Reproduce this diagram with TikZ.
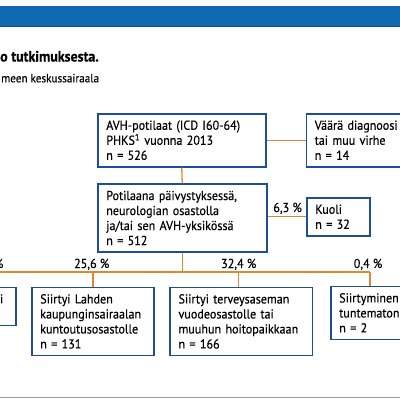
\documentclass[tikz,border=0pt]{standalone}
\usepackage{fontspec}
\setmainfont{PT Sans}[FakeStretch=0.93, FakeBold=0.4]
\definecolor{barblue}{HTML}{1169B0}
\definecolor{bardark}{HTML}{0B4A92}
\definecolor{boxblue}{HTML}{1D4F98}
\definecolor{linkor}{HTML}{DC8A2E}
\definecolor{rulegray}{HTML}{9A9A9A}
\newcommand{\bodyfont}{\fontsize{13}{15}\selectfont}
\begin{document}
\begin{tikzpicture}[x=1pt,y=-1pt,
  box/.style={draw=boxblue, line width=1.5pt, align=left, anchor=north west,
    inner xsep=8.5pt, inner ysep=5pt, font=\bodyfont,
    execute at begin node={\rule{0pt}{11pt}},
    execute at end node={\rule[-2pt]{0pt}{2pt}}},
  link/.style={draw=linkor, line width=1.3pt},
  pct/.style={font=\bodyfont, anchor=base, inner sep=0pt}]
\useasboundingbox (0,0) rectangle (400,400);
% header bar
\fill[barblue] (0,6) rectangle (400,26.7);
\draw[bardark, line width=1pt] (0,26.2) -- (400,26.2);
\node[anchor=base west, inner sep=0pt, font=\fontsize{15}{18}\selectfont\bfseries] (title) at (0,61.5) {o tutkimuksesta.};
\node[anchor=base west, inner sep=0pt, font=\fontsize{12}{14}\selectfont] (subtitle) at (1,82.3) {meen keskussairaala};
% boxes
\node[box, text width=151pt] (b1) at (97,113) {AVH-potilaat (ICD I60-64)\\PHKS\textsuperscript{1} vuonna 2013\\n = 526};
\node[box, text width=150pt] (b2) at (305.5,113) {Väärä diagnoosi\\tai muu virhe\\n = 14};
\node[box, text width=152pt, execute at begin node={\rule{0pt}{10pt}}, execute at end node={}] (b3) at (97,183.3) {Potilaana päivystyksessä,\\neurologian osastolla\\ja/tai sen AVH-yksikössä\\n = 512};
\node[box, text width=46pt] (b4) at (306,197) {Kuoli\\n = 32};
\node[box, anchor=north east, text width=7.5pt, inner xsep=8.5pt] (bA) at (16.7,286.7) {i\\\phantom{i}};
\node[box, text width=105.3pt] (bB) at (31,286.7) {Siirtyi Lahden\\kaupunginsairaalan\\kuntoutusosastolle\\n = 131};
\node[box, text width=125.4pt] (bC) at (169.3,286.7) {Siirtyi terveysaseman\\vuodeosastolle tai\\muuhun hoitopaikkaan\\n = 166};
\node[box, text width=120pt] (bD) at (330,285.7) {Siirtyminen\\tuntematon\\n = 2};
% connectors
\draw[link] (b1.east) -- (b2.west);
\draw[link] (b1.south) -- (b3.north);
\draw[link] (b3.east |- b4.west) -- (b4.west);
\coordinate (j) at (b3.south |- 0,272);
\coordinate (jl) at (-2,272);
\coordinate (jr) at (370,272);
\coordinate (dC) at (238.7,272);
\draw[link] (b3.south) -- (j);
\draw[link] (jl) -- (jr);
\draw[link] (bB.north |- j) -- (bB.north);
\draw[link] (dC) -- (dC |- bC.north);
\draw[link] (jr) -- (jr |- bD.north);
% percentages
\node[pct, anchor=base east] (p4) at (302,212) {6,3 \%};
\node[pct, anchor=base east] (pA) at (3.5,268) {\%};
\node[pct] (pB) at (91.7,268) {25,6 \%};
\node[pct] (pC) at (238.7,268) {32,4 \%};
\node[pct] (pD) at (368,268) {0,4 \%};
% bottom rule
\draw[rulegray, line width=1pt] (0,397.7) -- (400,397.7);
\end{tikzpicture}
\end{document}
